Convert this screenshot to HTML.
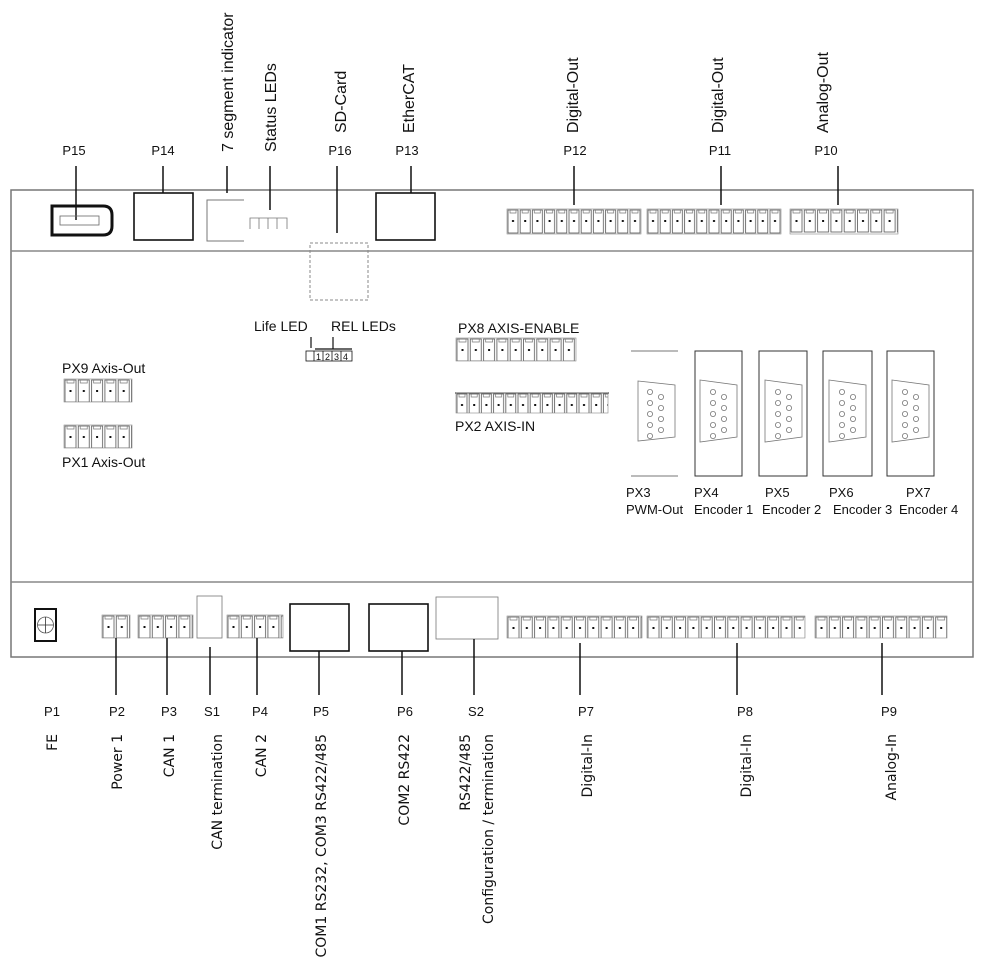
<!DOCTYPE html>
<html><head><meta charset="utf-8"><style>
html,body{margin:0;padding:0;background:#fff;}
svg{display:block;font-family:"Liberation Sans",sans-serif;}
text{font-size:13px;fill:#111;}
.b text{font-family:"DejaVu Sans",sans-serif;font-size:14px;}
.tp text{font-size:16px;}
</style></head><body>
<svg width="991" height="967" viewBox="0 0 991 967" xmlns="http://www.w3.org/2000/svg">
<defs>
<pattern id="t12" patternUnits="userSpaceOnUse" width="12.2" height="40" x="0" y="0">
 <rect x="1" y="1" width="10" height="23" fill="none" stroke="#555" stroke-width="0.8"/>
 <rect x="5" y="11" width="2" height="2" fill="#111"/>
 <path d="M3 1 v3 h6 v-3" fill="none" stroke="#777" stroke-width="0.7"/>
</pattern>
<pattern id="t13" patternUnits="userSpaceOnUse" width="13.3" height="40" x="0" y="0">
 <rect x="1" y="1" width="11" height="22" fill="none" stroke="#555" stroke-width="0.8"/>
 <rect x="5.5" y="11" width="2" height="2" fill="#111"/>
 <path d="M3 1 v3 h7 v-3" fill="none" stroke="#777" stroke-width="0.7"/>
</pattern>
</defs>

<rect x="11" y="190" width="962" height="467" fill="none" stroke="#777" stroke-width="1.5"/>
<line x1="11" y1="251" x2="973" y2="251" stroke="#888" stroke-width="1.5"/>
<line x1="11" y1="582" x2="973" y2="582" stroke="#888" stroke-width="1.5"/>

<g text-anchor="middle">
<text x="74" y="155">P15</text><text x="163" y="155">P14</text>
<text x="340" y="155">P16</text><text x="407" y="155">P13</text>
<text x="575" y="155">P12</text><text x="720" y="155">P11</text><text x="826" y="155">P10</text>
</g>
<g class="tp">
<text transform="translate(233,152) rotate(-90)">7 segment indicator</text>
<text transform="translate(276,152) rotate(-90)">Status LEDs</text>
<text transform="translate(346,133) rotate(-90)">SD-Card</text>
<text transform="translate(414,133) rotate(-90)">EtherCAT</text>
<text transform="translate(578,133) rotate(-90)">Digital-Out</text>
<text transform="translate(723,133) rotate(-90)">Digital-Out</text>
<text transform="translate(828,133) rotate(-90)">Analog-Out</text>
</g>
<g stroke="#111" stroke-width="1.5">
<line x1="76" y1="166" x2="76" y2="220"/>
<line x1="163" y1="166" x2="163" y2="193"/>
<line x1="227" y1="166" x2="227" y2="193"/>
<line x1="270" y1="166" x2="270" y2="210"/>
<line x1="337" y1="166" x2="337" y2="233"/>
<line x1="411" y1="166" x2="411" y2="193"/>
<line x1="574" y1="166" x2="574" y2="205"/>
<line x1="721" y1="166" x2="721" y2="205"/>
<line x1="838" y1="166" x2="838" y2="205"/>
</g>
<path d="M52 206 H103 Q112 206 112 215 V226 Q112 235 103 235 H52 Z" fill="none" stroke="#111" stroke-width="3"/>
<rect x="60" y="216" width="39" height="9" fill="none" stroke="#666" stroke-width="0.8"/>
<rect x="134" y="193" width="59" height="47" fill="none" stroke="#111" stroke-width="1.6"/>
<path d="M244 200 H207 V241 H244" fill="none" stroke="#777" stroke-width="1"/>
<path d="M250 229 V218 H287 V229 M259 218 V229 M268 218 V229 M277 218 V229" fill="none" stroke="#777" stroke-width="0.8"/>
<rect x="310" y="243" width="58" height="57" fill="none" stroke="#888" stroke-width="1" stroke-dasharray="3,2"/>
<rect x="376" y="193" width="59" height="47" fill="none" stroke="#111" stroke-width="1.6"/>
<g transform="translate(507,209)"><rect width="134" height="25" fill="url(#t12)" stroke="#888" stroke-width="0.6"/></g>
<g transform="translate(647,209)"><rect width="134" height="25" fill="url(#t12)" stroke="#888" stroke-width="0.6"/></g>
<g transform="translate(790,209)"><rect width="108" height="25" fill="url(#t13)" stroke="#888" stroke-width="0.6"/></g>

<text x="254" y="331" style="font-size:14px">Life LED</text>
<text x="331" y="331" style="font-size:14px">REL LEDs</text>
<path d="M311 337 V348 M315 349 H352 M333 349 V337" stroke="#111" stroke-width="1.2" fill="none"/>
<rect x="306" y="351" width="46" height="10" fill="none" stroke="#111" stroke-width="0.8"/>
<path d="M314 351 V361 M323 351 V361 M332 351 V361 M341 351 V361" stroke="#111" stroke-width="0.8"/>
<text x="316" y="360" style="font-size:9px">1</text><text x="325" y="360" style="font-size:9px">2</text><text x="334" y="360" style="font-size:9px">3</text><text x="343" y="360" style="font-size:9px">4</text>

<text x="62" y="373" style="font-size:14px">PX9 Axis-Out</text>
<g transform="translate(64,379)"><rect width="68" height="23" fill="url(#t13)" stroke="#888" stroke-width="0.6"/></g>
<g transform="translate(64,425)"><rect width="68" height="23" fill="url(#t13)" stroke="#888" stroke-width="0.6"/></g>
<text x="62" y="467" style="font-size:14px">PX1 Axis-Out</text>

<text x="458" y="333" style="font-size:14px">PX8 AXIS-ENABLE</text>
<g transform="translate(456,338)"><rect width="120" height="23" fill="url(#t13)" stroke="#888" stroke-width="0.6"/></g>
<line x1="455" y1="393" x2="609" y2="393" stroke="#111" stroke-width="1"/>
<g transform="translate(456,393)"><rect width="152" height="20" fill="url(#t12)" stroke="#888" stroke-width="0.6"/></g>
<text x="455" y="431" style="font-size:14px">PX2 AXIS-IN</text>

<path d="M631 351 H678 M631 476 H678" stroke="#777" stroke-width="1"/>
<rect x="695" y="351" width="47" height="125" fill="none" stroke="#333" stroke-width="1"/>
<rect x="759" y="351" width="48" height="125" fill="none" stroke="#333" stroke-width="1"/>
<rect x="823" y="351" width="49" height="125" fill="none" stroke="#333" stroke-width="1"/>
<rect x="887" y="351" width="47" height="125" fill="none" stroke="#333" stroke-width="1"/>
<g fill="none" stroke="#777" stroke-width="0.8">
<path d="M638 381 L675 385 V437 L638 441 Z"/>
<path d="M700 380 L737 385 V437 L700 442 Z"/>
<path d="M765 380 L802 385 V437 L765 442 Z"/>
<path d="M829 380 L866 385 V437 L829 442 Z"/>
<path d="M892 380 L929 385 V437 L892 442 Z"/>
</g>
<g fill="none" stroke="#777" stroke-width="0.8">
<g transform="translate(650,0)"><circle cx="0" cy="392" r="2.6"/><circle cx="0" cy="403" r="2.6"/><circle cx="0" cy="414" r="2.6"/><circle cx="0" cy="425" r="2.6"/><circle cx="0" cy="436" r="2.6"/><circle cx="11" cy="397" r="2.6"/><circle cx="11" cy="408" r="2.6"/><circle cx="11" cy="419" r="2.6"/><circle cx="11" cy="430" r="2.6"/></g>
<g transform="translate(713,0)"><circle cx="0" cy="392" r="2.6"/><circle cx="0" cy="403" r="2.6"/><circle cx="0" cy="414" r="2.6"/><circle cx="0" cy="425" r="2.6"/><circle cx="0" cy="436" r="2.6"/><circle cx="11" cy="397" r="2.6"/><circle cx="11" cy="408" r="2.6"/><circle cx="11" cy="419" r="2.6"/><circle cx="11" cy="430" r="2.6"/></g>
<g transform="translate(778,0)"><circle cx="0" cy="392" r="2.6"/><circle cx="0" cy="403" r="2.6"/><circle cx="0" cy="414" r="2.6"/><circle cx="0" cy="425" r="2.6"/><circle cx="0" cy="436" r="2.6"/><circle cx="11" cy="397" r="2.6"/><circle cx="11" cy="408" r="2.6"/><circle cx="11" cy="419" r="2.6"/><circle cx="11" cy="430" r="2.6"/></g>
<g transform="translate(842,0)"><circle cx="0" cy="392" r="2.6"/><circle cx="0" cy="403" r="2.6"/><circle cx="0" cy="414" r="2.6"/><circle cx="0" cy="425" r="2.6"/><circle cx="0" cy="436" r="2.6"/><circle cx="11" cy="397" r="2.6"/><circle cx="11" cy="408" r="2.6"/><circle cx="11" cy="419" r="2.6"/><circle cx="11" cy="430" r="2.6"/></g>
<g transform="translate(905,0)"><circle cx="0" cy="392" r="2.6"/><circle cx="0" cy="403" r="2.6"/><circle cx="0" cy="414" r="2.6"/><circle cx="0" cy="425" r="2.6"/><circle cx="0" cy="436" r="2.6"/><circle cx="11" cy="397" r="2.6"/><circle cx="11" cy="408" r="2.6"/><circle cx="11" cy="419" r="2.6"/><circle cx="11" cy="430" r="2.6"/></g>
</g>
<g>
<text x="626" y="497">PX3</text><text x="626" y="514">PWM-Out</text>
<text x="694" y="497">PX4</text><text x="694" y="514">Encoder 1</text>
<text x="765" y="497">PX5</text><text x="762" y="514">Encoder 2</text>
<text x="829" y="497">PX6</text><text x="833" y="514">Encoder 3</text>
<text x="906" y="497">PX7</text><text x="899" y="514">Encoder 4</text>
</g>

<rect x="35" y="609" width="21" height="32" fill="none" stroke="#111" stroke-width="2"/>
<circle cx="45.5" cy="625" r="8" fill="none" stroke="#555" stroke-width="0.8"/>
<path d="M45.5 617 V633 M37.5 625 H53.5" stroke="#333" stroke-width="0.8"/>
<g transform="translate(102,615)"><rect width="28" height="23" fill="url(#t13)" stroke="#888" stroke-width="0.6"/></g>
<g transform="translate(138,615)"><rect width="55" height="23" fill="url(#t13)" stroke="#888" stroke-width="0.6"/></g>
<rect x="197" y="596" width="25" height="42" fill="none" stroke="#777" stroke-width="0.8"/>
<g transform="translate(227,615)"><rect width="56" height="23" fill="url(#t13)" stroke="#888" stroke-width="0.6"/></g>
<rect x="290" y="604" width="59" height="47" fill="none" stroke="#111" stroke-width="1.6"/>
<rect x="369" y="604" width="59" height="47" fill="none" stroke="#111" stroke-width="1.6"/>
<rect x="436" y="597" width="62" height="42" fill="none" stroke="#777" stroke-width="0.8"/>
<g transform="translate(507,616)"><rect width="135" height="22" fill="url(#t13)" stroke="#888" stroke-width="0.6"/></g>
<g transform="translate(647,616)"><rect width="158" height="22" fill="url(#t13)" stroke="#888" stroke-width="0.6"/></g>
<g transform="translate(815,616)"><rect width="132" height="22" fill="url(#t13)" stroke="#888" stroke-width="0.6"/></g>
<g stroke="#111" stroke-width="1.5">
<line x1="116" y1="638" x2="116" y2="695"/>
<line x1="167" y1="638" x2="167" y2="695"/>
<line x1="210" y1="647" x2="210" y2="695"/>
<line x1="257" y1="638" x2="257" y2="695"/>
<line x1="319" y1="651" x2="319" y2="695"/>
<line x1="402" y1="651" x2="402" y2="695"/>
<line x1="474" y1="639" x2="474" y2="695"/>
<line x1="580" y1="643" x2="580" y2="695"/>
<line x1="737" y1="643" x2="737" y2="695"/>
<line x1="882" y1="643" x2="882" y2="695"/>
</g>
<g text-anchor="middle">
<text x="52" y="716">P1</text><text x="117" y="716">P2</text><text x="169" y="716">P3</text>
<text x="212" y="716">S1</text><text x="260" y="716">P4</text><text x="321" y="716">P5</text>
<text x="405" y="716">P6</text><text x="476" y="716">S2</text><text x="586" y="716">P7</text>
<text x="745" y="716">P8</text><text x="889" y="716">P9</text>
</g>
<g class="b" text-anchor="end">
<text transform="translate(57,734) rotate(-90)">FE</text>
<text transform="translate(122,734) rotate(-90)">Power 1</text>
<text transform="translate(174,734) rotate(-90)">CAN 1</text>
<text transform="translate(222,734) rotate(-90)">CAN termination</text>
<text transform="translate(266,734) rotate(-90)">CAN 2</text>
<text transform="translate(326,734) rotate(-90)">COM1 RS232, COM3 RS422/485</text>
<text transform="translate(409,734) rotate(-90)">COM2 RS422</text>
<text transform="translate(470,734) rotate(-90)">RS422/485</text>
<text transform="translate(493,734) rotate(-90)">Configuration / termination</text>
<text transform="translate(592,734) rotate(-90)">Digital-In</text>
<text transform="translate(751,734) rotate(-90)">Digital-In</text>
<text transform="translate(896,734) rotate(-90)">Analog-In</text>
</g>
</svg>
</body></html>
